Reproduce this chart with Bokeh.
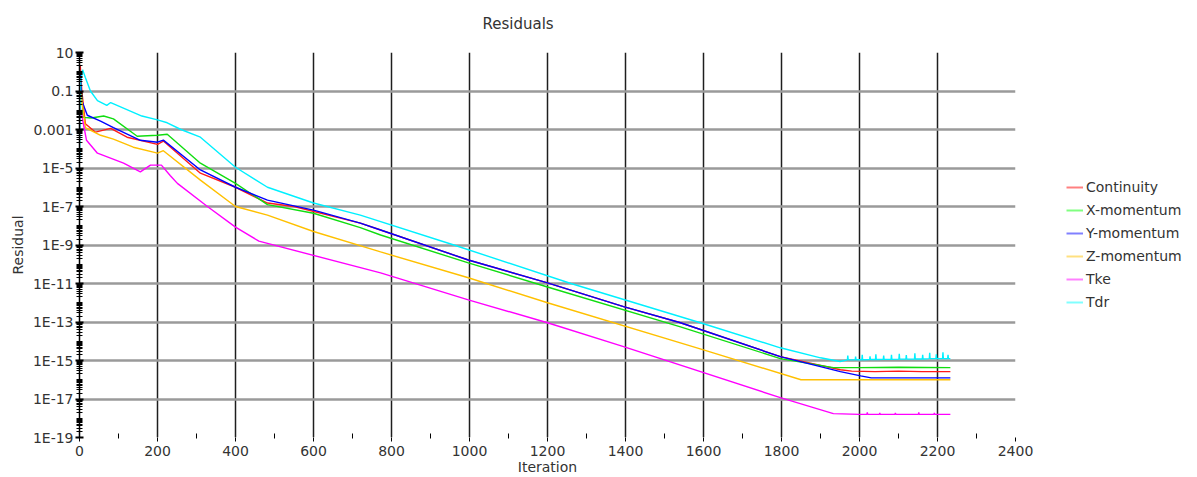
from bokeh.plotting import figure
from bokeh.models import FixedTicker, Legend, LegendItem, Title
from bokeh.layouts import row
from bokeh.embed import file_html
from bokeh.resources import INLINE

# ---- data (iteration, log10 of residual) ----
series_names = ["Continuity", "X-momentum", "Y-momentum", "Z-momentum", "Tke", "Tdr"]

cont_iter = [0, 2, 6, 15, 41, 80, 122, 200, 215, 310, 400, 482, 550, 720, 772, 997, 1200, 1395, 1541, 1797, 1951, 1980, 2040, 2100, 2160, 2233]
cont_log = [-1.5, 0.3, -1.0, -2.7, -3.14, -2.94, -3.4, -3.77, -3.6, -5.27, -6.0, -6.82, -7.0, -7.86, -8.22, -9.78, -10.97, -12.2, -13.04, -14.8, -15.48, -15.55, -15.58, -15.55, -15.58, -15.58]

xmom_iter = [0, 3, 10, 30, 62, 87, 148, 200, 225, 310, 400, 482, 600, 720, 772, 997, 1200, 1541, 1797, 1933, 2000, 2100, 2233]
xmom_log = [-2.5, -0.6, -2.37, -2.4, -2.3, -2.45, -3.35, -3.3, -3.25, -4.75, -5.8, -6.9, -7.35, -8.1, -8.48, -9.93, -11.18, -13.25, -14.9, -15.37, -15.37, -15.35, -15.37]

ymom_iter = [0, 2, 6, 20, 54, 87, 156, 200, 215, 310, 400, 482, 600, 720, 772, 997, 1200, 1395, 1541, 1797, 1951, 2003, 2030, 2233]
ymom_log = [-2.0, -0.1, -1.5, -2.26, -2.57, -2.9, -3.56, -3.66, -3.55, -5.1, -6.0, -6.67, -7.19, -7.86, -8.22, -9.78, -10.97, -12.2, -13.04, -14.8, -15.58, -15.8, -15.9, -15.9]

zmom_iter = [0, 3, 15, 54, 87, 138, 200, 215, 310, 400, 482, 600, 772, 997, 1200, 1600, 1850, 2000, 2233]
zmom_log = [-2.5, -1.0, -2.9, -3.3, -3.5, -3.92, -4.23, -4.1, -5.63, -7.0, -7.45, -8.3, -9.36, -10.7, -12.0, -14.45, -16.0, -16.0, -16.0]

tke_iter = [0, 2, 18, 46, 113, 156, 182, 210, 233, 251, 328, 400, 460, 772, 997, 1200, 1395, 1797, 1933,
            2000, 2019, 2020, 2021, 2051, 2052, 2053, 2091, 2092, 2093, 2151, 2152, 2153, 2191, 2192, 2193, 2233]
tke_log = [-3.0, -1.85, -3.56, -4.23, -4.75, -5.2, -4.85, -4.85, -5.4, -5.8, -7.0, -8.07, -8.8, -10.45, -11.85, -13.04, -14.28, -16.93, -17.76,
           -17.8, -17.8, -17.7, -17.8, -17.8, -17.72, -17.8, -17.8, -17.72, -17.8, -17.8, -17.7, -17.8, -17.8, -17.72, -17.8, -17.8]

tdr_iter = [0, 3, 8, 15, 28, 46, 70, 80, 120, 160, 200, 225, 260, 310, 400, 482, 600, 720, 960, 1260, 1592, 1797, 1900, 1950,
            1969, 1970, 1971, 1989, 1990, 1991, 2006, 2007, 2008, 2026, 2027, 2028, 2041, 2042, 2043, 2061, 2062, 2063,
            2081, 2082, 2083, 2101, 2102, 2103, 2119, 2120, 2121, 2141, 2142, 2143, 2161, 2162, 2163, 2179, 2180, 2181,
            2196, 2197, 2198, 2213, 2214, 2215, 2226, 2227, 2228, 2233]
tdr_log = [-4.6, -0.5, 0.1, -0.3, -1.0, -1.5, -1.75, -1.6, -1.95, -2.3, -2.5, -2.65, -3.0, -3.4, -4.96, -6.0, -6.82, -7.45, -9.0, -11.0, -13.04, -14.34, -14.86, -15.05,
           -14.97, -14.75, -14.97, -14.97, -14.8, -14.96, -14.96, -14.7, -14.96, -14.95, -14.78, -14.95, -14.95, -14.68, -14.95, -14.94, -14.75, -14.94,
           -14.94, -14.7, -14.94, -14.93, -14.65, -14.93, -14.93, -14.72, -14.93, -14.92, -14.62, -14.92, -14.92, -14.7, -14.92, -14.9, -14.6, -14.9,
           -14.9, -14.68, -14.9, -14.9, -14.58, -14.9, -14.9, -14.7, -14.9, -14.9]

x_ticks = [0, 200, 400, 600, 800, 1000, 1200, 1400, 1600, 1800, 2000, 2200, 2400]
y_tick_exps = [1, -1, -3, -5, -7, -9, -11, -13, -15, -17, -19]
y_tick_labels = ["10", "0.1", "0.001", "1E-5", "1E-7", "1E-9", "1E-11", "1E-13", "1E-15", "1E-17", "1E-19"]

line_colors = ["#ff1a1a", "#10dd10", "#0000ff", "#ffc000", "#ff00ff", "#00f0ff"]
legend_colors = ["#ff8080", "#80ff80", "#8080ff", "#ffe080", "#ff80ff", "#80ffff"]

FONT = "DejaVu Sans"

p = figure(width=1040, height=477, x_range=(0, 2400), y_range=(1e-19, 10),
           y_axis_type="log", output_backend="svg", toolbar_location=None, title=None,
           min_border_left=79, min_border_right=25, min_border_top=52, min_border_bottom=39)
p.outline_line_color = None
p.background_fill_color = "white"
p.border_fill_color = "white"

# title: a blank spacer next to the frame, then the real title above it
p.add_layout(Title(text=" ", text_font=FONT, text_font_size="14px", standoff=2), "above")
p.add_layout(Title(text="Residuals", align="left", offset=403, standoff=0,
                   text_font=FONT, text_font_size="15px", text_font_style="normal",
                   text_color="#333333"), "above")

# ticks
y_ticks = [10.0 ** e for e in y_tick_exps]
minor = []
for e in range(-19, 1):
    for m in range(1, 10):
        v = m * 10.0 ** e
        if m == 1 and e in y_tick_exps:
            continue
        minor.append(v)
p.yaxis.ticker = FixedTicker(ticks=y_ticks, minor_ticks=minor)
p.yaxis.major_label_overrides = {v: lab for v, lab in zip(y_ticks, y_tick_labels)}
p.xaxis.ticker = FixedTicker(ticks=x_ticks, minor_ticks=[x + 100 for x in x_ticks[:-1]])

for ax in (p.xaxis[0], p.yaxis[0]):
    ax.major_label_text_font = FONT
    ax.major_label_text_font_size = "14px"
    ax.major_label_text_color = "#333333"
    ax.axis_label_text_font = FONT
    ax.axis_label_text_font_size = "14px"
    ax.axis_label_text_font_style = "normal"
    ax.axis_label_text_color = "#333333"
    ax.major_tick_line_color = "black"
    ax.minor_tick_line_color = "black"

p.yaxis.axis_label = "Residual"
p.yaxis.axis_label_standoff = 4
p.yaxis.major_label_standoff = 2
p.yaxis.axis_line_color = "black"
p.yaxis.axis_line_width = 1.5
p.yaxis.major_tick_in = 4
p.yaxis.major_tick_out = 4
p.yaxis.major_tick_line_width = 2
p.yaxis.minor_tick_in = 3
p.yaxis.minor_tick_out = 3

p.xaxis.axis_label = "Iteration"
p.xaxis.axis_label_standoff = 0
p.xaxis.major_label_standoff = 4
p.xaxis.axis_line_color = None
p.xaxis.major_tick_in = 0
p.xaxis.major_tick_out = 4
p.xaxis.minor_tick_in = 4
p.xaxis.minor_tick_out = 1

p.ygrid.grid_line_color = "#9a9a9a"
p.ygrid.grid_line_width = 2.5
p.xgrid.grid_line_color = "#1e1e1e"
p.xgrid.grid_line_width = 1.5

all_iters = [cont_iter, xmom_iter, ymom_iter, zmom_iter, tke_iter, tdr_iter]
all_logs = [cont_log, xmom_log, ymom_log, zmom_log, tke_log, tdr_log]

# legend lives in a narrow companion figure to the right of the plot
lg_fig = figure(width=157, height=477, x_range=(0, 1), y_range=(0, 1),
                output_backend="svg", toolbar_location=None,
                x_axis_location=None, y_axis_location=None,
                min_border_left=0, min_border_right=0, min_border_top=0, min_border_bottom=0)
lg_fig.outline_line_color = None
lg_fig.xgrid.visible = False
lg_fig.ygrid.visible = False

items = []
for name, its, lg, c, lc in zip(series_names, all_iters, all_logs, line_colors, legend_colors):
    ys = [10.0 ** v for v in lg]
    p.line(its, ys, line_color=c, line_width=1.4)
    dummy = lg_fig.line([-5, -4], [-5, -5], line_color=lc, line_width=2)
    items.append(LegendItem(label=name, renderers=[dummy]))

legend = Legend(items=items, location=(26, 125), orientation="vertical",
                border_line_color=None, background_fill_alpha=0,
                label_text_font=FONT, label_text_font_size="14px", label_text_color="#333333",
                glyph_width=17, glyph_height=20, label_height=20, label_standoff=3,
                spacing=3, padding=0, margin=0)
lg_fig.add_layout(legend, "center")

layout = row(p, lg_fig, spacing=0)
open("out.html", "w").write(file_html(layout, INLINE))
